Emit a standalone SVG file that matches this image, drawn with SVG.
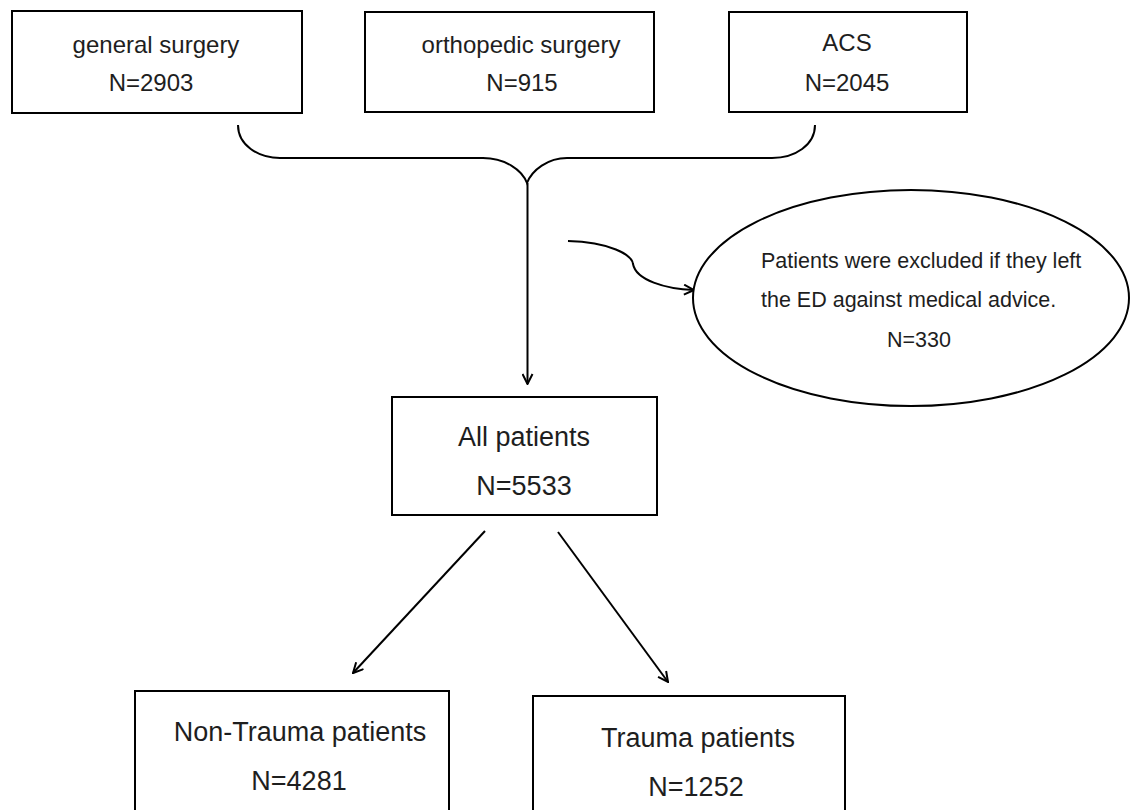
<svg xmlns="http://www.w3.org/2000/svg" width="1130" height="810" viewBox="0 0 1130 810">
<defs>
<style>
.box{fill:#fff;stroke:#000;stroke-width:2}
.t{font-family:"Liberation Sans",Arial,sans-serif;fill:#1e1e1e;text-anchor:middle}
.st{text-anchor:start}
.s24{font-size:24px}
.s27{font-size:27px}
.s21{font-size:21.5px}
.ln{fill:none;stroke:#000;stroke-width:2}
</style>
<marker id="arr" viewBox="0 0 12 12" refX="11" refY="6" markerWidth="12" markerHeight="12" markerUnits="userSpaceOnUse" orient="auto">
<path d="M1,1 L11,6 L1,11" fill="none" stroke="#000" stroke-width="2"/>
</marker>
</defs>
<rect width="1130" height="810" fill="#fff"/>
<g id="connectors">
<path class="ln" d="M238,125 C238,145 258,158 280,158 L483,158 C505,158 522,170 527,183 C532,170 548,158 567,158 L772,158 C795,158 815,145 815,125"/>
<path class="ln" d="M527.5,183 L527.5,384" marker-end="url(#arr)"/>
<path class="ln" d="M568,241 C610,242 632,255 633,264 C636,280 665,289 694,290" marker-end="url(#arr)"/>
<path class="ln" d="M485,531 L353,673" marker-end="url(#arr)"/>
<path class="ln" d="M558,532 L668,682" marker-end="url(#arr)"/>
</g>
<g id="general-surgery">
<rect class="box" x="12" y="11" width="290" height="102"/>
<text class="t s24" x="156" y="53">general surgery</text>
<text class="t s24" x="151" y="91">N=2903</text>
</g>
<g id="orthopedic-surgery">
<rect class="box" x="365" y="12" width="289" height="100"/>
<text class="t s24" x="521" y="53">orthopedic surgery</text>
<text class="t s24" x="522" y="91">N=915</text>
</g>
<g id="acs">
<rect class="box" x="729" y="12" width="238" height="100"/>
<text class="t s24" x="847" y="51">ACS</text>
<text class="t s24" x="847" y="91">N=2045</text>
</g>
<g id="excluded">
<ellipse cx="911" cy="298" rx="218" ry="108" fill="#fff" stroke="#000" stroke-width="2"/>
<text class="t st s21" x="761" y="268">Patients were excluded if they left</text>
<text class="t st s21" x="761" y="307">the ED against medical advice.</text>
<text class="t s21" x="919" y="347">N=330</text>
</g>
<g id="all-patients">
<rect class="box" x="392" y="397" width="265" height="118"/>
<text class="t s27" x="524" y="446">All patients</text>
<text class="t s27" x="524" y="495">N=5533</text>
</g>
<g id="non-trauma">
<rect class="box" x="135" y="691" width="314" height="130"/>
<text class="t s27" x="300" y="741">Non-Trauma patients</text>
<text class="t s27" x="299" y="790">N=4281</text>
</g>
<g id="trauma">
<rect class="box" x="533" y="696" width="312" height="130"/>
<text class="t s27" x="698" y="747">Trauma patients</text>
<text class="t s27" x="696" y="796">N=1252</text>
</g>
</svg>
